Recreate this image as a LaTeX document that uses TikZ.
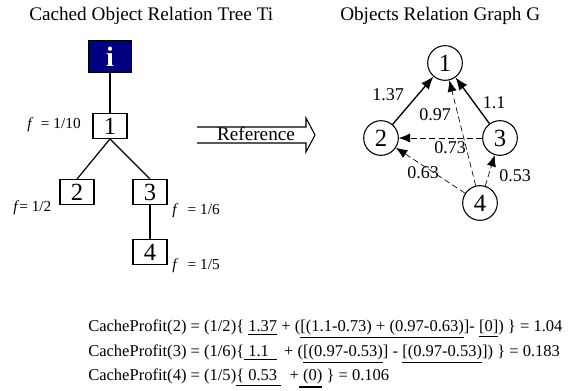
\documentclass[tikz,border=0pt]{standalone}
\usepackage{fontspec}
\setmainfont{Liberation Serif}
\usetikzlibrary{arrows.meta,positioning}
\definecolor{rootnavy}{RGB}{0,0,128}
\newcommand{\ulthick}[1]{\leavevmode\vtop{\hbox{#1}\kern1pt\hrule height 1.4pt}}
\newcommand{\ulthin}[1]{\leavevmode\vtop{\hbox{#1}\kern1pt\hrule height 0.8pt}}
\tikzset{
  title/.style={anchor=base west, inner sep=0pt, font=\fontsize{14.4}{16}\selectfont},
  rootbox/.style={draw, line width=0.8pt, fill=rootnavy, text=white, minimum width=32pt, minimum height=24.5pt, inner sep=0pt, font=\fontsize{21}{21}\bfseries\selectfont},
  treebox/.style={draw, line width=0.9pt, minimum width=25.5pt, minimum height=18.5pt, inner sep=0pt, font=\fontsize{18.5}{18.5}\selectfont},
  flabel/.style={anchor=base west, inner sep=0pt, font=\fontsize{11.5}{12}\selectfont},
  graphnode/.style={draw, circle, line width=0.8pt, minimum size=26pt, inner sep=0pt, font=\fontsize{18.5}{18.5}\selectfont},
  weight/.style={inner sep=0pt, font=\fontsize{13.5}{14}\selectfont},
  treeline/.style={line width=0.9pt},
  solidedge/.style={line width=1pt, -{Latex[length=9.5pt,width=7.5pt]}},
  dashedge/.style={line width=0.5pt, dash pattern=on 4.5pt off 2.5pt, -{Latex[length=8.5pt,width=7pt]}},
  profit/.style={anchor=base west, inner sep=0pt, font=\fontsize{12.4}{14}\selectfont},
}
\begin{document}
\begin{tikzpicture}[x=0.75pt,y=-0.75pt]
    \useasboundingbox (0,0) rectangle (571,391);

    \node[title] (treetitle) at (29,21) {Cached Object Relation Tree Ti};
    \node[title] (graphtitle) at (340,21) {Objects Relation Graph G};

    % cached tree
    \node[rootbox] (ti) at (110,56.5) {i};
    \node[treebox] (t1) at (110,126) {1};
    \node[treebox] (t2) at (77,192) {2};
    \node[treebox] (t3) at (150,192) {3};
    \node[treebox] (t4) at (150,252) {4};

    \node[flabel] (f1) at (27,129) {\textit{f}\enspace= 1/10};
    \node[flabel] (f2) at (13,212) {\textit{f}= 1/2};
    \node[flabel] (f3) at (172,215) {\textit{f}\hspace{7pt}= 1/6};
    \node[flabel] (f4) at (172,270) {\textit{f}\hspace{7pt}= 1/5};

    \draw[treeline] (ti) to (t1) ;
    \draw[treeline] (t1.south) to (t2.north) ;
    \draw[treeline] (t1.south) to (t3.north) ;
    \draw[treeline] (t3) to (t4) ;

    % reference arrow
    \draw[line width=0.8pt, line join=miter] (197,127) -- (306,127) -- (306,118) -- (315,135)
        -- (306,152) -- (306,143) -- (197,143);
    \node[inner sep=0pt, font=\fontsize{14.4}{16}\selectfont] (reflabel) at (256,134) {Reference};

    % relation graph
    \node[graphnode] (g1) at (445,63) {1};
    \node[graphnode] (g2) at (381,138) {2};
    \node[graphnode] (g3) at (500,138) {3};
    \node[graphnode] (g4) at (480,203) {4};

    \draw[solidedge] (g2) to (g1) ;
    \draw[solidedge] (g3) to (g1) ;
    \draw[dashedge] (g4) to (g1) ;
    \draw[dashedge] (g3) to (g2) ;
    \draw[dashedge] (g4) to (g2) ;
    \draw[dashedge] (g4) to (g3) ;

    \node[weight] (w21) at (388,95) {1.37};
    \node[weight] (w31) at (494,103) {1.1};
    \node[weight] (w41) at (435,115) {0.97};
    \node[weight] (w32) at (450,148) {0.73};
    \node[weight] (w42) at (423,173) {0.63};
    \node[weight] (w43) at (515,176) {0.53};

    % profit calculation
    \node[profit] (cp2) at (88,332) {CacheProfit(2) = (1/2)\{ \ulthick{1.37} + (\ulthin{[(1.1-0.73) + (0.97-0.63)}]- \ulthick{[0]}) \} = 1.04};
    \node[profit] (cp3) at (88,357) {CacheProfit(3) = (1/6)\{\ulthick{ 1.1 \ }\ \,+ (\ulthin{[(0.97-0.53)}] - \ulthin{[(0.97-0.53)}]) \} = 0.183};
    \node[profit] (cp4) at (88,381) {CacheProfit(4) = (1/5)\ulthick{\{ 0.53\ }\ \ +\ulthick{ (0)} \} = 0.106};

\end{tikzpicture}
\end{document}
